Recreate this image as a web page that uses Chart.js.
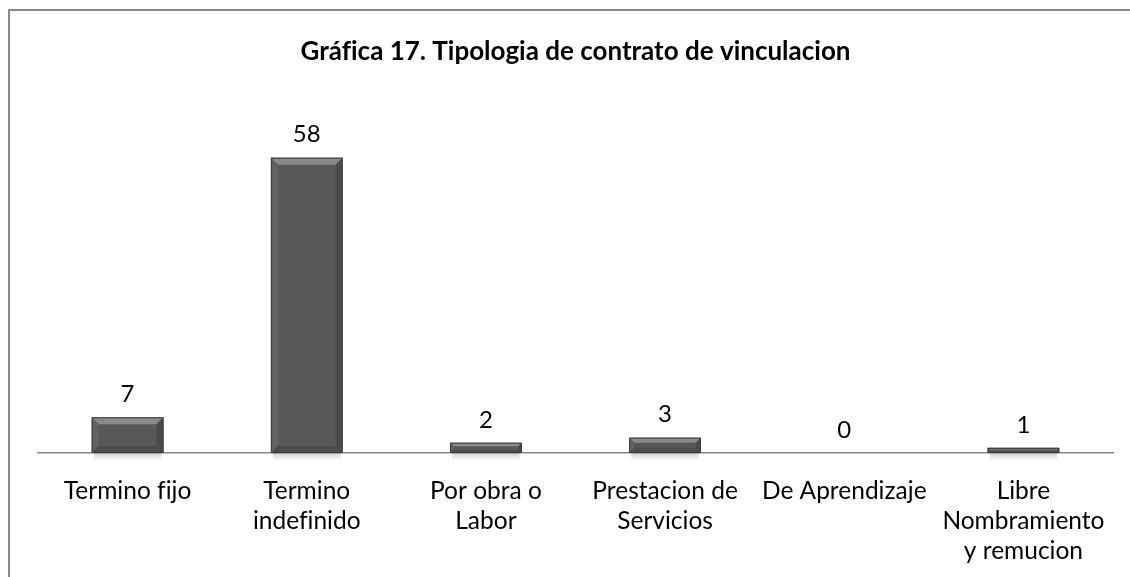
<!DOCTYPE html>
<html>
<head>
<meta charset="utf-8">
<script src="https://cdn.jsdelivr.net/npm/chart.js@4/dist/chart.umd.min.js"></script>
<style>
  html, body { margin: 0; padding: 0; background: #fff; }
  #wrap { position: relative; width: 1130px; height: 577px; overflow: hidden; }
  #frame { position: absolute; left: 8px; top: 9px; right: -5px; bottom: -5px;
           border-left: 2px solid #888; border-top: 2px solid #888; }
  canvas { position: absolute; left: 0; top: 0; }
</style>
</head>
<body>
<div id="wrap">
  <div id="frame"></div>
  <canvas id="myBarChart" width="1130" height="577"></canvas>
</div>
<script>
// U+200C keeps "f" and "i" apart (no ligature), as in the original
const categories = [
  'Termino f\u200Cijo',
  ['Termino', 'indef\u200Cinido'],
  ['Por obra o', 'Labor'],
  ['Prestacion de', 'Servicios'],
  'De Aprendizaje',
  ['Libre', 'Nombramiento', 'y remucion']
];
const values = [7, 58, 2, 3, 0, 1];
const titleText = 'Gráf\u200Cica 17. Tipologia de contrato de vinculacion';

const fontFamily = 'Lato, "Open Sans", sans-serif';

// value labels above each bar
const valueLabels = {
  id: 'valueLabels',
  afterDatasetsDraw(chart) {
    const ctx = chart.ctx;
    const meta = chart.getDatasetMeta(0);
    ctx.save();
    ctx.font = '24px ' + fontFamily;
    ctx.fillStyle = '#000';
    ctx.textAlign = 'center';
    ctx.textBaseline = 'middle';
    meta.data.forEach((bar, i) => {
      ctx.fillText(values[i], bar.x, bar.y - 23);
    });
    ctx.restore();
  }
};

// bevel look + soft shadow on the bars
const bevel = {
  id: 'bevel',
  beforeDatasetsDraw(chart) {
    const ctx = chart.ctx;
    const meta = chart.getDatasetMeta(0);
    ctx.save();
    meta.data.forEach(bar => {
      const l = bar.x - bar.width / 2;
      if (bar.base - bar.y < 1) return;
      const g = ctx.createLinearGradient(0, bar.base, 0, bar.base + 8);
      g.addColorStop(0, 'rgba(0,0,0,0.18)');
      g.addColorStop(1, 'rgba(0,0,0,0)');
      ctx.fillStyle = g;
      ctx.fillRect(l + 2, bar.base, bar.width - 4, 8);
    });
    ctx.restore();
  },
  afterDatasetsDraw(chart) {
    const ctx = chart.ctx;
    const meta = chart.getDatasetMeta(0);
    ctx.save();
    meta.data.forEach(bar => {
      const l = bar.x - bar.width / 2, r = bar.x + bar.width / 2;
      const t = bar.y, b = bar.base;
      const h = b - t;
      if (h < 1) return;
      const s = Math.min(7, h / 3);
      const poly = (pts, color) => {
        ctx.beginPath();
        ctx.moveTo(pts[0][0], pts[0][1]);
        for (let k = 1; k < pts.length; k++) ctx.lineTo(pts[k][0], pts[k][1]);
        ctx.closePath();
        ctx.fillStyle = color;
        ctx.fill();
      };
      poly([[l, t], [r, t], [r - s, t + s], [l + s, t + s]], '#8a8a8a');
      poly([[l, t], [l + s, t + s], [l + s, b - s], [l, b]], '#626262');
      poly([[r, t], [r, b], [r - s, b - s], [r - s, t + s]], '#4a4a4a');
      poly([[l, b], [l + s, b - s], [r - s, b - s], [r, b]], '#4c4c4c');
      ctx.strokeStyle = '#3c3c3c';
      ctx.lineWidth = 1;
      ctx.strokeRect(l + 0.5, t + 0.5, r - l - 1, h - 1);
    });
    ctx.restore();
  }
};

new Chart(document.getElementById('myBarChart'), {
  type: 'bar',
  data: {
    labels: categories,
    datasets: [{
      data: values,
      backgroundColor: '#585858',
      borderWidth: 0,
      barPercentage: 0.8,
      categoryPercentage: 0.5
    }]
  },
  options: {
    responsive: false,
    animation: false,
    layout: { padding: { left: 38, right: 17, top: 0, bottom: -12 } },
    plugins: {
      legend: { display: false },
      tooltip: { enabled: false },
      title: {
        display: true,
        text: titleText,
        color: '#000',
        font: { family: fontFamily, size: 26, weight: 'bold', lineHeight: 1.2 },
        padding: { top: 36, bottom: 60 }
      }
    },
    scales: {
      x: {
        grid: { display: false, drawTicks: false },
        border: { display: true, color: '#888', width: 1.5 },
        ticks: {
          color: '#000',
          padding: 23,
          maxRotation: 0,
          autoSkip: false,
          font: { family: fontFamily, size: 24.5, lineHeight: 1.225 }
        }
      },
      y: {
        display: false,
        min: 0,
        max: 64
      }
    }
  },
  plugins: [valueLabels, bevel]
});
</script>
</body>
</html>
